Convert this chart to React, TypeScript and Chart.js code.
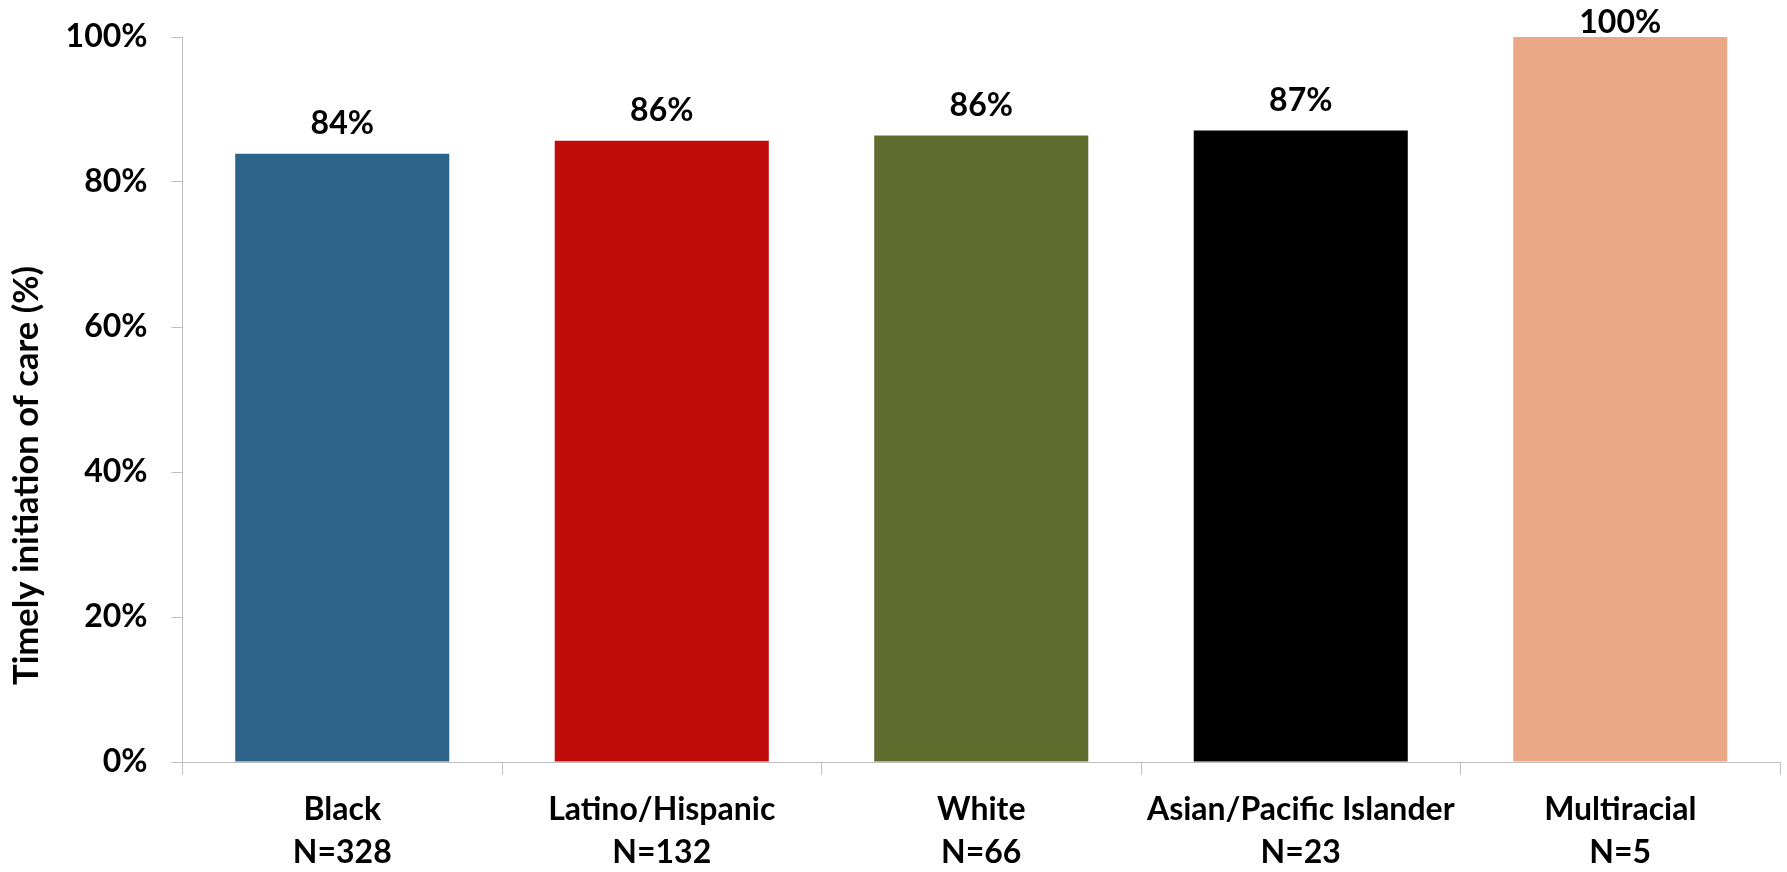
import React, { useEffect, useRef } from "react";
import { Chart, registerables } from "chart.js";

Chart.register(...registerables);

const categories: string[][] = [
  ["Black", "N=328"],
  ["Latino/Hispanic", "N=132"],
  ["White", "N=66"],
  ["Asian/Pacific Islander", "N=23"],
  ["Multiracial", "N=5"],
];
const values: number[] = [83.9, 85.7, 86.4, 87.1, 100];
const barColors: string[] = ["#2E6489", "#C00B0B", "#606B2E", "#000000", "#EAA886"];
const yTicks: number[] = [0, 20, 40, 60, 80, 100];
const yTitle = "Timely initiation of care (%)";

const FONT = "Lato, 'Open Sans', sans-serif";

const valueLabels = {
  id: "valueLabels",
  afterDatasetsDraw(chart: any) {
    const ctx = chart.ctx;
    const meta = chart.getDatasetMeta(0);
    ctx.save();
    ctx.font = `bold 32px ${FONT}`;
    ctx.fillStyle = "#000";
    ctx.textAlign = "center";
    ctx.textBaseline = "alphabetic";
    meta.data.forEach((bar: any, i: number) => {
      let y = bar.y - 20;
      if (y < 33) y = 33;
      ctx.fillText(Math.round(values[i]) + "%", bar.x, y);
    });
    ctx.restore();
  },
};

const axisTitle = {
  id: "axisTitle",
  afterDraw(chart: any) {
    const ctx = chart.ctx;
    const area = chart.chartArea;
    ctx.save();
    ctx.font = `bold 34.5px ${FONT}`;
    ctx.fillStyle = "#000";
    ctx.textAlign = "center";
    ctx.textBaseline = "middle";
    ctx.translate(27, (area.top + area.bottom) / 2 + 76);
    ctx.rotate(-Math.PI / 2);
    ctx.fillText(yTitle, 0, 0);
    ctx.restore();
  },
};

export default function App() {
  const ref = useRef<HTMLCanvasElement>(null);
  useEffect(() => {
    if (!ref.current) return;
    const chart = new Chart(ref.current, {
      type: "bar",
      data: {
        labels: categories,
        datasets: [
          {
            data: values,
            backgroundColor: barColors,
            borderWidth: 0,
            barPercentage: 0.67,
            categoryPercentage: 1,
          },
        ],
      },
      options: {
        animation: false,
        responsive: true,
        maintainAspectRatio: false,
        layout: { padding: { left: 0, right: 7, top: 37, bottom: 0 } },
        plugins: { legend: { display: false }, tooltip: { enabled: false } },
        scales: {
          x: {
            afterFit: (s: any) => {
              s.height = 110;
              s.paddingLeft = 0;
              s.paddingRight = 0;
            },
            grid: {
              offset: true,
              drawOnChartArea: false,
              drawTicks: true,
              tickLength: 13,
              color: "#bfbfbf",
            },
            border: { color: "#bfbfbf", width: 1 },
            ticks: {
              color: "#000",
              padding: 14,
              font: { family: FONT, size: 32, weight: "bold", lineHeight: 1.32 },
              maxRotation: 0,
              autoSkip: false,
            },
          },
          y: {
            min: 0,
            max: 100,
            afterFit: (s: any) => {
              s.width = 182.5;
              s.paddingTop = 0;
              s.paddingBottom = 0;
            },
            afterBuildTicks: (s: any) => {
              s.ticks = yTicks.map((v) => ({ value: v }));
            },
            grid: {
              drawOnChartArea: false,
              drawTicks: true,
              tickLength: 11,
              color: "#bfbfbf",
            },
            border: { color: "#bfbfbf", width: 1 },
            ticks: {
              color: "#000",
              padding: 24,
              font: { family: FONT, size: 32, weight: "bold" },
              callback: (v: any) => v + "%",
            },
          },
        },
      },
      plugins: [valueLabels, axisTitle],
    });
    return () => chart.destroy();
  }, []);
  return (
    <div style={{ position: "fixed", left: 0, top: 0, width: 1787, height: 872, background: "#fff" }}>
      <canvas ref={ref} />
    </div>
  );
}
